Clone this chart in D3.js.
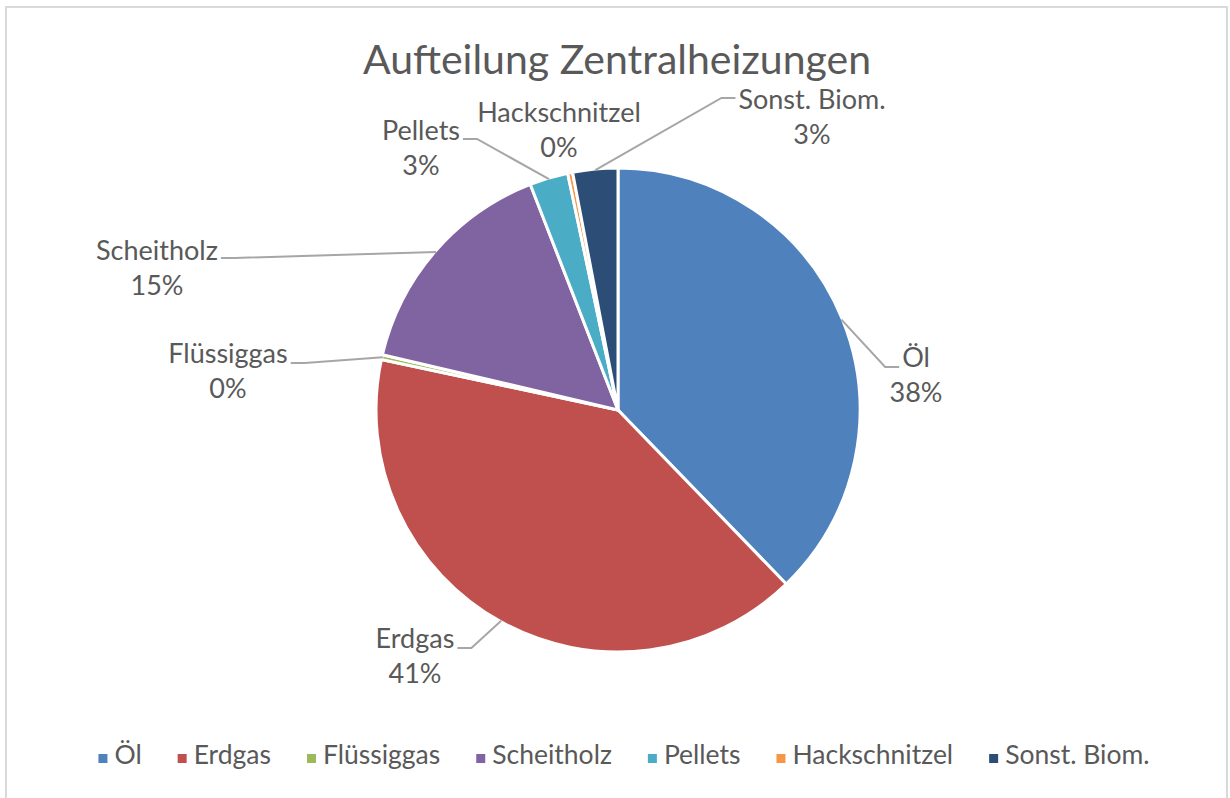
<!DOCTYPE html>
<html>
<head>
<meta charset="utf-8">
<script src="https://cdn.jsdelivr.net/npm/d3@7/dist/d3.min.js"></script>
<style>
  html, body { margin: 0; padding: 0; background: #ffffff; }
  svg { display: block; }
  text { font-family: Lato, "Open Sans", sans-serif; fill: #595959; }
</style>
</head>
<body>
<svg id="chart" width="1230" height="798"></svg>
<script>
// ---- data ----
const title = "Aufteilung Zentralheizungen";
const categories = ["Öl", "Erdgas", "Flüssiggas", "Scheitholz", "Pellets", "Hackschnitzel", "Sonst. Biom."];
const values = [37.7, 40.5, 0.33, 15.4, 2.56, 0.33, 3.0];
const colors = ["#4F81BD", "#C0504D", "#9BBB59", "#8064A2", "#4BACC6", "#F79646", "#2C4D75"];

// ---- layout (label anchor positions: center x, baseline of first line, leader attach) ----
const labelLayout = [
  { cx: 916, y: 367, side: "right", ly: 367, leader: true },
  { cx: 415, y: 648, side: "left",  ly: 648, leader: true },
  { cx: 228, y: 363, side: "left",  ly: 363, leader: true },
  { cx: 157, y: 260, side: "left",  ly: 258, leader: true },
  { cx: 421, y: 140, side: "left",  ly: 139, leader: true },
  { cx: 559, y: 122, side: "left",  ly: 122, leader: false },
  { cx: 812, y: 109, side: "right", ly: 98,  leader: true }
];

const W = 1230, H = 798;
const cx = 618, cy = 410, R = 242;
const svg = d3.select("#chart");

// border
svg.append("rect")
  .attr("x", 6).attr("y", 7)
  .attr("width", 1221).attr("height", 800)
  .attr("fill", "#ffffff")
  .attr("stroke", "#D9D9D9").attr("stroke-width", 2);

// title
svg.append("text")
  .attr("x", 617).attr("y", 74)
  .attr("text-anchor", "middle")
  .style("font-size", "41px")
  .text(title);

const total = d3.sum(values);
const data = categories.map((c, i) => ({ name: c, value: values[i], color: colors[i], lay: labelLayout[i] }));

const pie = d3.pie().sort(null).value(d => d.value);
const arcs = pie(data);
const arc = d3.arc().innerRadius(0).outerRadius(R);
const edgeArc = d3.arc().innerRadius(R - 1).outerRadius(R - 1);

const g = svg.append("g").attr("transform", `translate(${cx},${cy})`);
g.selectAll("path.slice")
  .data(arcs)
  .join("path")
  .attr("class", "slice")
  .attr("d", arc)
  .attr("fill", d => d.data.color)
  .attr("stroke", "#ffffff")
  .attr("stroke-width", 3)
  .attr("stroke-linejoin", "round");

// labels
const fmt = v => Math.round(v / total * 100) + "%";
const labelG = svg.append("g");
arcs.forEach(a => {
  const L = a.data.lay;
  const t = labelG.append("text")
    .attr("text-anchor", "middle")
    .style("font-size", "27px");
  t.append("tspan").attr("x", L.cx).attr("y", L.y).text(a.data.name);
  t.append("tspan").attr("x", L.cx).attr("y", L.y + 35).text(fmt(a.data.value));
  if (L.leader) {
    const w1 = t.select("tspan").node().getComputedTextLength();
    const [px, py] = edgeArc.centroid(a);
    const sx = cx + px, sy = cy + py;
    let endX, elbowX;
    if (L.side === "left") {
      endX = L.cx + w1 / 2 + 3;
      elbowX = endX + 14;
    } else {
      endX = L.cx - w1 / 2 - 3;
      elbowX = endX - 14;
    }
    labelG.append("path")
      .attr("d", d3.line()([[sx, sy], [elbowX, L.ly], [endX, L.ly]]))
      .attr("fill", "none")
      .attr("stroke", "#A6A6A6")
      .attr("stroke-width", 2);
  }
});

// legend
const legend = svg.append("g");
let xpos = 0;
const gap = 36;
data.forEach(d => {
  const item = legend.append("g");
  item.append("rect")
    .attr("x", xpos).attr("y", -10)
    .attr("width", 9).attr("height", 9)
    .attr("fill", d.color);
  const tt = item.append("text")
    .attr("x", xpos + 16).attr("y", 0)
    .style("font-size", "26.5px")
    .text(d.name);
  const w = tt.node().getComputedTextLength();
  xpos += 16 + w + gap;
});
const legendWidth = xpos - gap;
legend.attr("transform", `translate(${624 - legendWidth / 2}, 764)`);
</script>
</body>
</html>
